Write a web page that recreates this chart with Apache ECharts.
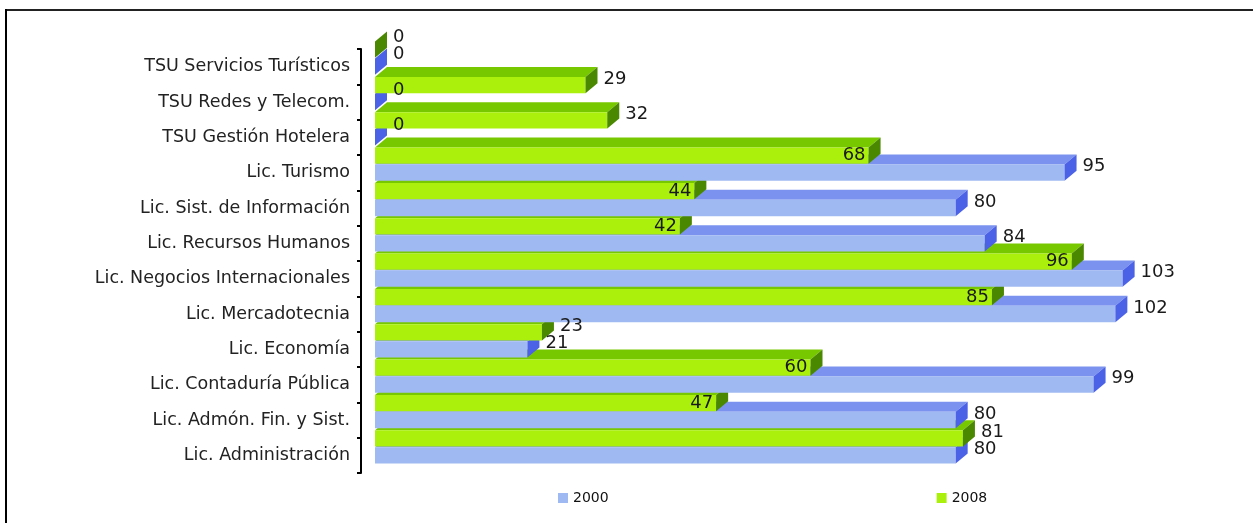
<!DOCTYPE html>
<html>
<head>
<meta charset="utf-8">
<script src="https://cdn.jsdelivr.net/npm/echarts@6/dist/echarts.min.js"></script>
<style>
  html, body { margin: 0; padding: 0; background: #fff; }
  #main { width: 1253px; height: 523px; }
</style>
</head>
<body>
<div id="main"></div>
<script>
// categories from bottom to top
var categories = ['Lic. Administración', 'Lic. Admón. Fin. y Sist.', 'Lic. Contaduría Pública', 'Lic. Economía',
	'Lic. Mercadotecnia', 'Lic. Negocios Internacionales', 'Lic. Recursos Humanos', 'Lic. Sist. de Información',
	'Lic. Turismo', 'TSU Gestión Hotelera', 'TSU Redes y Telecom.', 'TSU Servicios Turísticos'];
var values2000 = [80, 80, 99, 21, 102, 103, 84, 80, 95, 0, 0, 0];
var values2008 = [81, 47, 60, 23, 85, 96, 42, 44, 68, 32, 29, 0];
var seriesNames = ['2000', '2008'];

// front / top / side colours of the 3d bars
var faces = [
	{ front: '#9fbaf2', top: '#7b93ef', side: '#4b62e6' },
	{ front: '#aaf00c', top: '#78c800', side: '#4a8800' }
];

var myChart = echarts.init(document.getElementById('main'));

function toData(arr) {
	var out = [];
	for (var i = 0; i < arr.length; ++i)
		out.push([arr[i], i]);
	return out;
}

var wallGap = 14;	// bars stand a bit in front of the axis wall

function renderBar(params, api) {
	var s = params.seriesIndex;
	var val = api.value(0);
	var idx = api.value(1);
	var p0 = api.coord([0, idx]);
	var p1 = api.coord([val, idx]);
	var band = api.size([0, 1])[1];
	var c = p0[1];
	var h = band * 0.46;
	var top = s == 1 ? c - band * 0.71 : c - band * 0.23;
	var dx = 12, dy = 10;
	var x0 = p0[0] + wallGap, x1 = p1[0] + wallGap;
	var f = faces[s];
	var base = params.dataIndex * 10 + (s == 1 ? 5 : 0);

	// label inside for 2008 when it is shorter than 2000
	var inside = s == 1 && values2000[idx] > val;
	var label;
	if (inside) {
		label = { type: 'text', z2: 500, style: { text: String(val), x: x1 - 3, y: top + h / 2,
			align: 'right', verticalAlign: 'middle', fill: '#1a1a1a', font: '18px "DejaVu Sans"' } };
	} else {
		label = { type: 'text', z2: 500, style: { text: String(val), x: x1 + dx + 6, y: val == 0 ? top - 4 : top + 2,
			align: 'left', verticalAlign: 'middle', fill: '#1a1a1a', font: '18px "DejaVu Sans"' } };
	}

	return {
		type: 'group',
		children: [
			{ type: 'polygon', z2: base,
				shape: { points: [[x0, top], [x0 + dx, top - dy], [x1 + dx, top - dy], [x1, top]] },
				style: { fill: f.top } },
			{ type: 'rect', z2: base + 1,
				shape: { x: x0, y: top, width: x1 - x0, height: h },
				style: { fill: f.front } },
			{ type: 'polygon', z2: base + 2,
				shape: { points: [[x1, top], [x1 + dx, top - dy], [x1 + dx, top + h - dy], [x1, top + h]] },
				style: { fill: f.side } },
			label
		]
	};
}

var option = {
	animation: false,
	backgroundColor: '#fff',
	grid: { left: 361, right: 21, top: 49, bottom: 50 },
	legend: {
		data: seriesNames,
		left: 553,
		top: 486,
		icon: 'rect',
		itemWidth: 10,
		itemHeight: 10,
		itemGap: 328,
		textStyle: { fontFamily: 'DejaVu Sans', fontSize: 14, color: '#111' }
	},
	xAxis: { type: 'value', min: 0, max: 120, show: false },
	yAxis: {
		type: 'category',
		data: categories,
		axisLine: { show: true, lineStyle: { color: '#000', width: 2 } },
		axisTick: { show: true, inside: false, length: 4, lineStyle: { color: '#000', width: 2 } },
		axisLabel: { margin: 11, fontFamily: 'DejaVu Sans', fontSize: 17.5, color: '#222' },
		splitLine: { show: false }
	},
	graphic: [
		{ type: 'line', shape: { x1: 6, y1: 10, x2: 1253, y2: 10 }, style: { stroke: '#222', lineWidth: 2 } },
		{ type: 'line', shape: { x1: 6, y1: 9, x2: 6, y2: 523 }, style: { stroke: '#000', lineWidth: 2 } }
	],
	series: [
		{ name: seriesNames[0], type: 'custom', renderItem: renderBar, itemStyle: { color: faces[0].front },
			encode: { x: 0, y: 1 }, data: toData(values2000) },
		{ name: seriesNames[1], type: 'custom', renderItem: renderBar, itemStyle: { color: faces[1].front },
			encode: { x: 0, y: 1 }, data: toData(values2008) }
	]
};

myChart.setOption(option);
</script>
</body>
</html>
